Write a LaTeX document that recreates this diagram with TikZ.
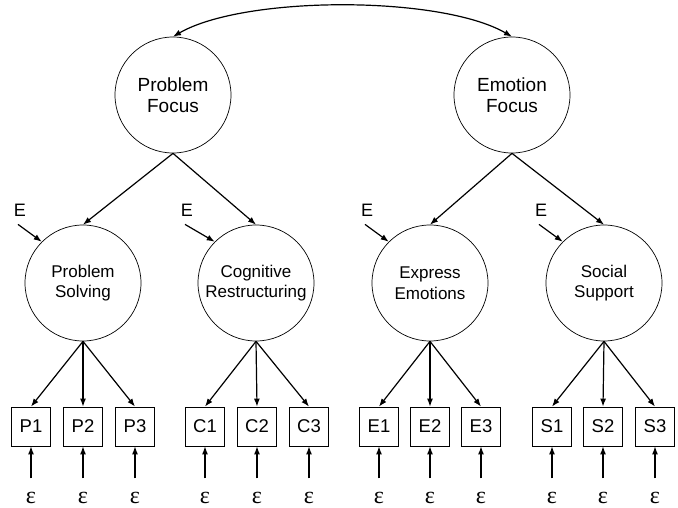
\documentclass[tikz,border=0pt]{standalone}
\usepackage{fontspec}
\setmainfont{Liberation Sans}
\newfontfamily\serifgreek{Liberation Serif}
\usetikzlibrary{arrows.meta}
\begin{document}
\begin{tikzpicture}[x=1pt,y=-1pt,
  latent/.style={circle,draw,line width=0.7pt,minimum size=116pt,inner sep=0pt,align=center},
  toplat/.style={latent,font=\fontsize{19}{21.5}\selectfont},
  sublat/.style={latent,font=\fontsize{17}{20.5}\selectfont},
  indic/.style={draw,line width=0.8pt,minimum size=39pt,inner sep=0pt,font=\fontsize{18.5}{20}\selectfont},
  errlab/.style={inner sep=0pt,anchor=base,font=\serifgreek\fontsize{24}{26}\selectfont},
  dlab/.style={inner sep=0pt,font=\fontsize{18}{20}\selectfont},
  arr/.style={-{Latex[length=8pt,width=6pt]},line width=1.2pt},
  arcarr/.style={{Latex[length=8pt,width=6pt]}-{Latex[length=8pt,width=6pt]},line width=1.2pt},
]
\useasboundingbox (0,0) rectangle (678,508);

% latent factors
\node[toplat] (pf) at (173,95) {Problem\\Focus};
\node[toplat] (ef) at (512,95) {Emotion\\Focus};
\node[sublat] (ps) at (83,283) {Problem\\Solving};
\node[sublat] (cr) at (256,283) {Cognitive\\Restructuring};
\node[sublat] (ee) at (430,283) {Express\\Emotions};
\node[sublat] (ss) at (604,283) {Social\\Support};

% correlation arc
\draw[arcarr] (pf.north) .. controls +(71.5,-41.3) and +(-71.5,-41.3) .. (ef.north);

% higher-order loadings
\draw[arr] (pf.south) -- (ps.north);
\draw[arr] (pf.south) -- (cr.north);
\draw[arr] (ef.south) -- (ee.north);
\draw[arr] (ef.south) -- (ss.north);

% disturbances
\node[dlab] (d1) at (20,210) {E};
\node[dlab] (d2) at (187,210) {E};
\node[dlab] (d3) at (367,210) {E};
\node[dlab] (d4) at (541,210) {E};
\draw[arr] ([shift={(-2pt,-8pt)}]d1.south) -- (ps.north west);
\draw[arr] ([shift={(-2pt,-8pt)}]d2.south) -- (cr.north west);
\draw[arr] ([shift={(-2pt,-8pt)}]d3.south) -- (ee.north west);
\draw[arr] ([shift={(-2pt,-8pt)}]d4.south) -- (ss.north west);

% indicators
\node[indic] (p1) at (31,426.5) {P1};
\node[indic] (p2) at (83,426.5) {P2};
\node[indic] (p3) at (135,426.5) {P3};
\node[indic] (c1) at (205,426.5) {C1};
\node[indic] (c2) at (257,426.5) {C2};
\node[indic] (c3) at (309,426.5) {C3};
\node[indic] (e1) at (379,426.5) {E1};
\node[indic] (e2) at (430,426.5) {E2};
\node[indic] (e3) at (481,426.5) {E3};
\node[indic] (s1) at (552,426.5) {S1};
\node[indic] (s2) at (603,426.5) {S2};
\node[indic] (s3) at (655,426.5) {S3};

% loadings
\foreach \f/\n in {ps/p1,ps/p2,ps/p3,cr/c1,cr/c2,cr/c3,ee/e1,ee/e2,ee/e3,ss/s1,ss/s2,ss/s3}{
  \draw[arr] (\f.south) -- (\n.north);
}

% measurement errors
\foreach \n/\x in {p1/31,p2/83,p3/135,c1/205,c2/257,c3/309,e1/379,e2/430,e3/481,s1/552,s2/603,s3/655}{
  \node[errlab] (eps\n) at (\x,503) {ε};
  \draw[arr,shorten <=13pt] (eps\n.north) -- (\n.south);
}
\end{tikzpicture}
\end{document}
